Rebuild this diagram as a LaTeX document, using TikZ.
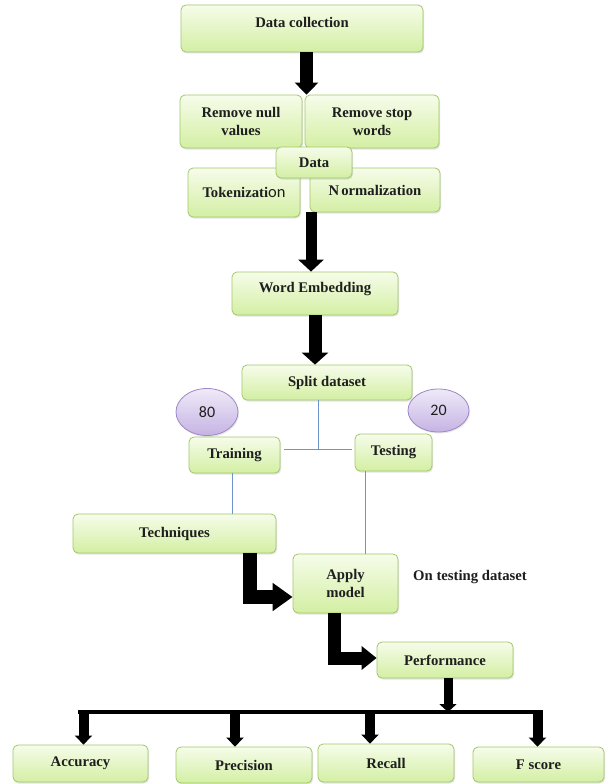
\documentclass[tikz,border=0pt]{standalone}
\usepackage{fontspec}
\setmainfont{Liberation Serif}
\newfontfamily\calibri{Carlito}
\usetikzlibrary{shapes.geometric,arrows.meta,shadows,calc}
\definecolor{boxtop}{HTML}{F6FCEA}
\definecolor{boxbot}{HTML}{D3EFA3}
\definecolor{boxline}{HTML}{A3C86A}
\definecolor{elltop}{HTML}{EFEAF8}
\definecolor{ellbot}{HTML}{C5B3E3}
\definecolor{ellline}{HTML}{9E86C8}
\definecolor{linkblue}{HTML}{6E95CB}
\definecolor{textdark}{HTML}{1E1E1E}
\tikzset{
  box/.style={draw=boxline, line width=0.8pt, rounded corners=5pt,
    top color=boxtop, bottom color=boxbot,
    drop shadow={opacity=0.22, shadow xshift=1pt, shadow yshift=-1.5pt},
    inner sep=0pt, align=center, text=textdark,
    font=\fontsize{14.7}{18}\selectfont\bfseries},
  sz/.style 2 args={minimum width=#1pt, minimum height=#2pt},
  ell/.style={ellipse, draw=ellline, line width=0.8pt,
    top color=elltop, bottom color=ellbot, inner sep=0pt,
    drop shadow={opacity=0.18, shadow xshift=1pt, shadow yshift=-1.5pt},
    text=textdark, font=\calibri\fontsize{16}{18}\selectfont},
  note/.style={inner sep=0pt, text=textdark, font=\fontsize{14.7}{18}\selectfont\bfseries},
  link/.style={draw=linkblue, line width=0.8pt},
  fat/.style n args={3}{draw=black, line width=#1, -{Triangle[width=#2, length=#3]}},
  bar/.style={draw=black, line width=4pt}
}
\begin{document}
\begin{tikzpicture}[x=1pt, y=-1pt]
\useasboundingbox (0,0) rectangle (606,784);
\fill[white] (0,0) rectangle (606,784);

% top section
\node[box, sz={242}{47}, text depth=12pt] (dc) at (302,28.5) {Data collection};
\node[box, sz={122}{53}] (rn) at (241,121.5) {Remove null\\values};
\node[box, sz={134}{53}] (rs) at (372,121.5) {Remove stop\\words};
\node[box, sz={112}{49}] (tok) at (244,192.5) {Tokenizati{\calibri\mdseries\fontsize{16.5}{18}\selectfont on}};
\node[box, sz={130}{44}] (norm) at (375,190) {N\hspace{2pt}ormalization};
\node[box, sz={76}{31}] (data) at (314,162.5) {Data};

\node[box, sz={166}{43}, text depth=12pt] (we) at (315,293.5) {Word Embedding};
\node[box, sz={170}{35}] (split) at (327,382.5) {Split dataset};

\node[ell, minimum width=62pt, minimum height=47pt] (e80) at (207,412) {80};
\node[ell, minimum width=61pt, minimum height=43pt] (e20) at (438.5,410.5) {20};

\node[box, sz={91}{36}] (train) at (234.5,455) {Training};
\node[box, sz={77}{37}] (test) at (393.5,452.5) {Testing};

\node[box, sz={203}{39}] (tech) at (174.5,533.5) {Techniques};
\node[box, sz={105}{59}] (apply) at (345.5,583.5) {Apply\\model};
\node[note] (ontest) at (470,577) {On testing dataset};
\node[box, sz={136}{36}] (perf) at (445,660) {Performance};

\node[box, sz={135}{37}] (acc) at (80.5,763.5) {Accuracy};
\node[box, sz={136}{36}] (prec) at (244,765) {Precision};
\node[box, sz={136}{38}] (rec) at (386,763) {Recall};
\node[box, sz={131}{35}] (fs) at (538.5,764.5) {F score};

% thick arrows
\draw[fat={13pt}{23pt}{12pt}] ([xshift=4.5pt]dc.south) -- ([xshift=4.5pt]dc.south |- rn.north);
\draw[fat={11pt}{25pt}{12pt}] ([xshift=-4pt]we.north |- norm.south) -- ([xshift=-4pt]we.north);
\draw[fat={13pt}{26pt}{12pt}] (we.south) -- (we.south |- split.north);
\draw[fat={14pt}{27pt}{20pt}] ([xshift=75pt]tech.south) |- ([yshift=-13.5pt]apply.west);
\draw[fat={13pt}{23pt}{15pt}] ([xshift=-11pt]apply.south) |- ([yshift=2pt]perf.west);

% thin blue links
\coordinate (jn) at (318,449);
\coordinate (jl) at (284,449);
\coordinate (jr) at (352,449);
\draw[link] ([xshift=-9pt]split.south) -- (jn);
\draw[link] (jl) -- (jr);
\draw[link] ([xshift=-2pt]train.south) -- ([xshift=-2pt]train.south |- tech.north);
\draw[link] ([xshift=-28pt]test.south) -- ([xshift=-28pt]test.south |- apply.north);

% bottom distribution
\coordinate (bl) at (78,712);
\coordinate (br) at (543,712);
\draw[fat={9pt}{17pt}{8pt}] ([xshift=3pt]perf.south) -- ([xshift=3pt]perf.south |- br);
\draw[bar] (bl) -- (br);
\coordinate (xa) at (83.5,710);
\coordinate (xp) at (235,710);
\coordinate (xr) at (370,710);
\coordinate (xf) at (537.5,710);
\draw[fat={10pt}{17pt}{9pt}] (xa) -- (xa |- acc.north);
\draw[fat={10pt}{17pt}{9pt}] (xp) -- (xp |- prec.north);
\draw[fat={10pt}{17pt}{9pt}] (xr) -- (xr |- rec.north);
\draw[fat={10pt}{17pt}{9pt}] (xf) -- (xf |- fs.north);
\end{tikzpicture}
\end{document}
